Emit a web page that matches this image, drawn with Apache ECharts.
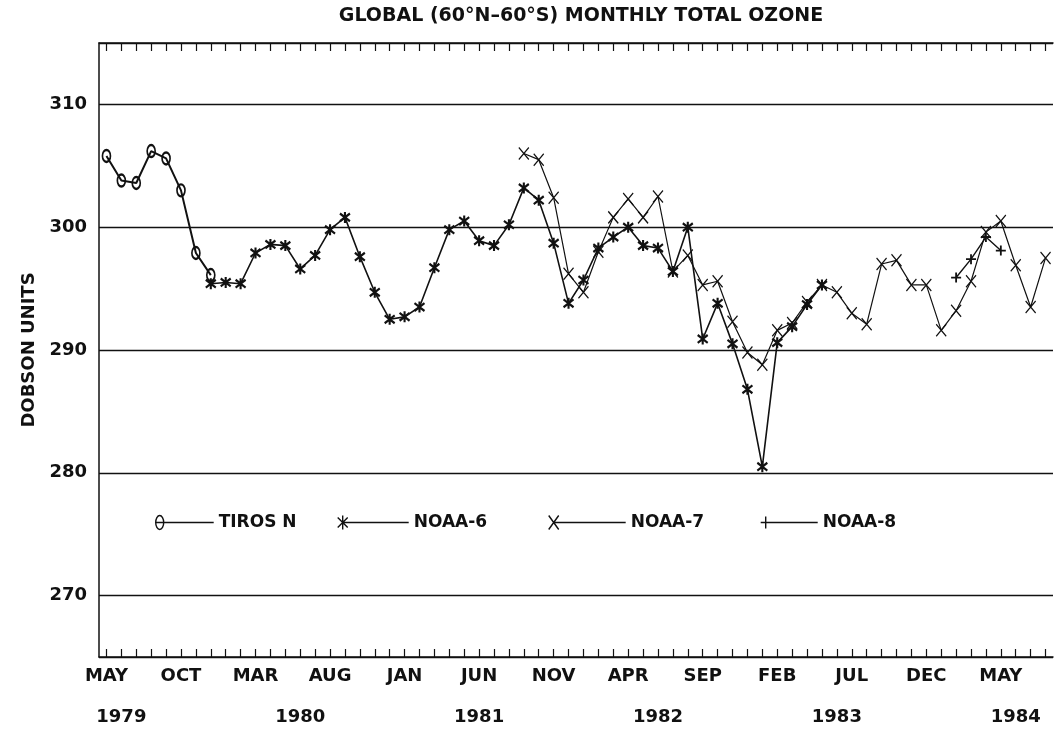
<!DOCTYPE html>
<html>
<head>
<meta charset="utf-8">
<title>Global monthly total ozone</title>
<script src="https://cdn.jsdelivr.net/npm/echarts@6/dist/echarts.min.js"></script>
<style>
  html, body { margin: 0; padding: 0; background: #fff; }
  #chart { width: 1055px; height: 732px; }
</style>
</head>
<body>
<div id="chart"></div>
<script>
// months run from MAY 1979 (index 0) to AUG 1984 (index 63)
var monthNames = ["JAN", "FEB", "MAR", "APR", "MAY", "JUN", "JUL", "AUG", "SEP", "OCT", "NOV", "DEC"];
var firstMonth = 4;
var monthCount = 64;
var yearLabels = ["1979", "1980", "1981", "1982", "1983", "1984"];

// each satellite: index of its first month, then the monthly values (Dobson units)
var tirosStart = 0;
var tirosN = [305.8, 303.8, 303.6, 306.2, 305.6, 303.0, 297.9, 296.1];

var noaa6Start = 7;
var noaa6 = [295.4, 295.5, 295.4, 297.9, 298.6, 298.5, 296.6, 297.7, 299.8, 300.8,
             297.6, 294.7, 292.5, 292.7, 293.5, 296.7, 299.8, 300.5, 298.9, 298.5,
             300.2, 303.2, 302.2, 298.7, 293.8, 295.7, 298.3, 299.2, 300.0, 298.5,
             298.3, 296.4, 300.0, 290.9, 293.8, 290.5, 286.8, 280.5, 290.6, 291.9,
             293.7, 295.3];

var noaa7Start = 28;
var noaa7 = [306.0, 305.5, 302.4, 296.2, 294.7, 298.0, 300.8, 302.3, 300.8, 302.5,
             296.4, 297.7, 295.3, 295.6, 292.3, 289.8, 288.8, 291.6, 292.2, 293.9,
             295.3, 294.7, 293.0, 292.1, 297.0, 297.3, 295.3, 295.3, 291.6, 293.2,
             295.6, 299.6, 300.5, 296.9, 293.5, 297.5];

var noaa8Start = 57;
var noaa8 = [295.9, 297.4, 299.2, 298.1];

var months = [];
var monthYears = [];
for (var i = 0; i < monthCount; i++) {
    months.push(monthNames[(firstMonth + i) % 12]);
    monthYears.push(yearLabels[Math.floor((firstMonth + i) / 12)]);
}

function pairs(start, values) {
    return values.map(function (v, i) { return [start + i, v]; });
}

var FONT = "'DejaVu Sans', Verdana, sans-serif";
var labelStyle = { color: "#111", fontSize: 18, fontWeight: "bold", fontFamily: FONT };

// marker shapes
var asterisk = "path://M0 2L10 12M10 2L0 12M5 0L5 14";
var cross = "path://M0 0L10 12M10 0L0 12";
var plus = "path://M0 5L10 5M5 0L5 10";
var oval = "path://M0 6A4 6 0 1 1 8 6A4 6 0 1 1 0 6Z";

// legend icon: marker on the left, line running to the right
function legendIcon(kind, w) {
    var line = "M5 7L" + w + " 7";
    if (kind === "oval") return "path://M0 7A4 7 0 1 1 8 7A4 7 0 1 1 0 7ZM0 7L" + w + " 7";
    if (kind === "asterisk") return "path://M0 2L10 12M10 2L0 12M5 0L5 14" + line;
    if (kind === "cross") return "path://M0 0L10 14M10 0L0 14" + line;
    return "path://M0 7L" + w + " 7M5 1L5 13";
}

function legendFor(name, kind, left, w) {
    return {
        show: true, left: left, top: 514, padding: 0,
        itemWidth: w, itemHeight: 14, selectedMode: false,
        data: [{ name: name, icon: legendIcon(kind, w),
                 itemStyle: { color: "transparent", borderColor: "#111", borderWidth: 1.4 } }],
        textStyle: { color: "#111", fontSize: 17, fontWeight: "bold", fontFamily: FONT }
    };
}

function lineSeries(name, start, values, symbol, size, width, markWidth) {
    return {
        name: name, type: "line", xAxisIndex: 0,
        data: pairs(start, values),
        symbol: symbol, symbolSize: size, showAllSymbol: true,
        itemStyle: { color: "transparent", borderColor: "#111", borderWidth: markWidth },
        lineStyle: { color: "#111", width: width },
        emphasis: { disabled: true }
    };
}

var tickStyle = { show: true, alignWithLabel: true, inside: true, length: 8, interval: 0,
                  lineStyle: { color: "#111", width: 1.2 } };

var chart = echarts.init(document.getElementById("chart"));
chart.setOption({
    animation: false,
    backgroundColor: "#fff",
    title: {
        text: "GLOBAL (60°N–60°S) MONTHLY TOTAL OZONE",
        left: 576, top: 2, textAlign: "center",
        textStyle: { color: "#111", fontSize: 19, fontWeight: "bold", fontFamily: FONT }
    },
    legend: [
        legendFor("TIROS N", "oval", 155, 58),
        legendFor("NOAA-6", "asterisk", 337, 71),
        legendFor("NOAA-7", "cross", 548, 77),
        legendFor("NOAA-8", "plus", 760, 57)
    ],
    grid: { left: 99, right: 2, top: 43, bottom: 75 },
    xAxis: [
        {
            type: "category", data: months, boundaryGap: true, position: "bottom",
            axisLine: { show: true, lineStyle: { color: "#111", width: 1.5 } },
            axisTick: tickStyle,
            axisLabel: Object.assign({ interval: function (i) { return i % 5 === 0; },
                                       margin: 10 }, labelStyle),
            splitLine: { show: false }
        },
        {
            type: "category", data: monthYears, boundaryGap: true, position: "bottom", offset: 41,
            axisLine: { show: false }, axisTick: { show: false },
            axisLabel: Object.assign({ interval: function (i) { return (i - 1) % 12 === 0; },
                                       margin: 10 }, labelStyle),
            splitLine: { show: false }
        },
        {
            type: "category", data: months, boundaryGap: true, position: "top",
            axisLine: { show: true, lineStyle: { color: "#111", width: 1.5 } },
            axisTick: tickStyle,
            axisLabel: { show: false },
            splitLine: { show: false }
        }
    ],
    yAxis: {
        type: "value", min: 265, max: 315,
        name: "DOBSON UNITS", nameLocation: "middle", nameGap: 56,
        nameTextStyle: { color: "#111", fontSize: 18, fontWeight: "bold", fontFamily: FONT },
        axisLine: { show: true, lineStyle: { color: "#111", width: 1.5 } },
        axisTick: { show: false },
        axisLabel: Object.assign({ margin: 12,
            formatter: function (v) { return v % 10 === 0 ? String(v) : ""; } }, labelStyle),
        splitLine: { show: true, lineStyle: { color: "#111", width: 1.3 } }
    },
    series: [
        lineSeries("TIROS N", tirosStart, tirosN, oval, [8, 12], 2, 2),
        lineSeries("NOAA-6", noaa6Start, noaa6, asterisk, [10, 11], 1.6, 2.2),
        lineSeries("NOAA-7", noaa7Start, noaa7, cross, [10, 12], 1.2, 1.3),
        lineSeries("NOAA-8", noaa8Start, noaa8, plus, [10, 10], 1.4, 1.8)
    ]
});
</script>
</body>
</html>
